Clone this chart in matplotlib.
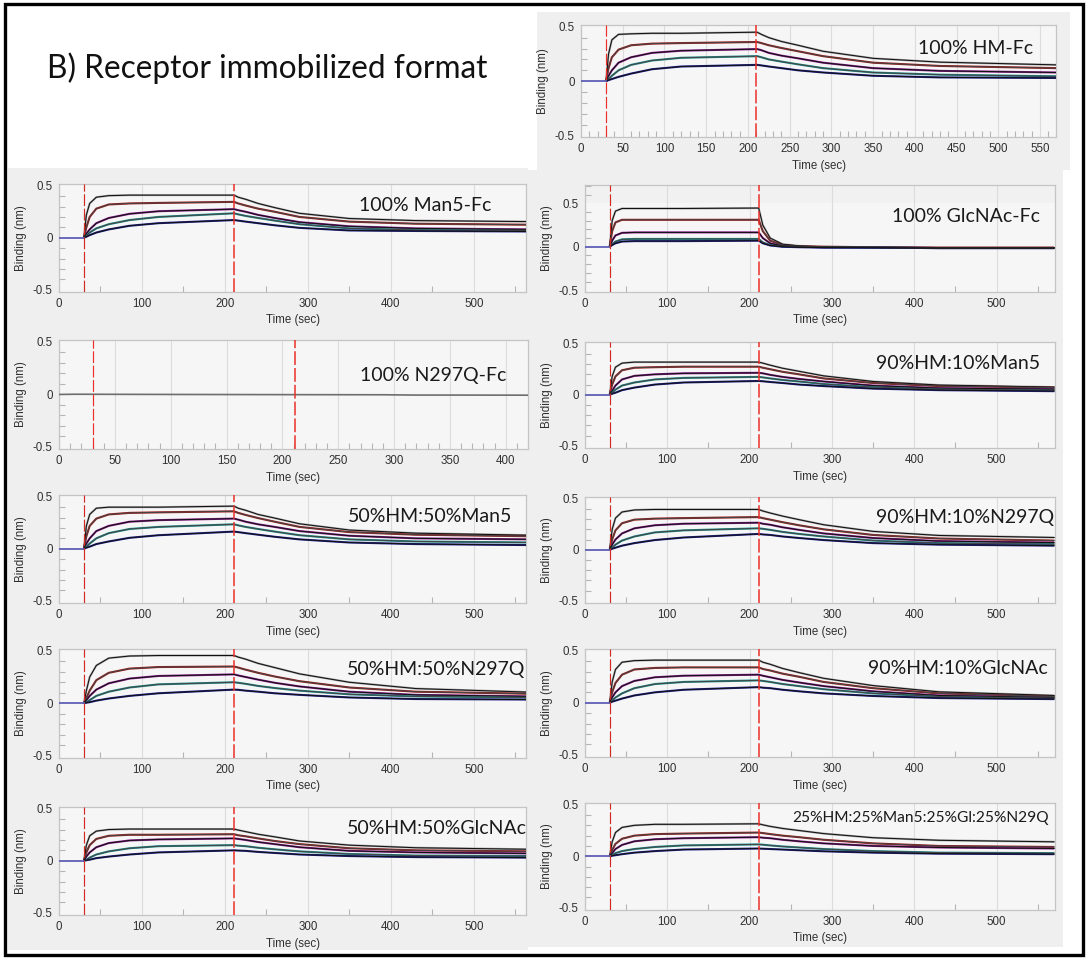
import matplotlib
matplotlib.use("Agg")
import matplotlib.pyplot as plt
from matplotlib.patches import Rectangle
from matplotlib.ticker import MultipleLocator, FixedLocator

# ---------------- data ----------------
T = [0, 30, 33, 37, 45, 60, 85, 120, 211, 216, 225, 240, 260, 290, 350, 430, 570]

hm_fc = [
    [0, 0, 0.25, 0.38, 0.43, 0.435, 0.44, 0.44, 0.45, 0.43, 0.40, 0.365, 0.33, 0.275, 0.21, 0.175, 0.15],
    [0, 0, 0.12, 0.22, 0.29, 0.33, 0.345, 0.35, 0.36, 0.35, 0.33, 0.305, 0.275, 0.23, 0.17, 0.14, 0.12],
    [0, 0, 0.05, 0.10, 0.17, 0.22, 0.26, 0.28, 0.295, 0.285, 0.26, 0.235, 0.21, 0.17, 0.12, 0.095, 0.08],
    [0, 0, 0.02, 0.05, 0.10, 0.15, 0.19, 0.215, 0.23, 0.22, 0.20, 0.18, 0.155, 0.12, 0.08, 0.06, 0.045],
    [0, 0, 0.01, 0.02, 0.04, 0.07, 0.11, 0.135, 0.15, 0.145, 0.135, 0.12, 0.10, 0.08, 0.05, 0.035, 0.03],
]
man5_fc = [
    [0, 0, 0.22, 0.33, 0.39, 0.405, 0.41, 0.41, 0.41, 0.39, 0.37, 0.33, 0.29, 0.235, 0.185, 0.165, 0.155],
    [0, 0, 0.10, 0.20, 0.28, 0.32, 0.33, 0.335, 0.345, 0.33, 0.31, 0.28, 0.25, 0.20, 0.155, 0.135, 0.125],
    [0, 0, 0.04, 0.08, 0.14, 0.19, 0.23, 0.255, 0.275, 0.265, 0.25, 0.22, 0.19, 0.15, 0.11, 0.09, 0.08],
    [0, 0, 0.02, 0.05, 0.09, 0.13, 0.17, 0.20, 0.235, 0.225, 0.21, 0.19, 0.165, 0.13, 0.09, 0.075, 0.07],
    [0, 0, 0.01, 0.025, 0.05, 0.08, 0.115, 0.14, 0.17, 0.165, 0.155, 0.14, 0.12, 0.095, 0.07, 0.065, 0.06],
]
glcnac_fc = [
    [0, 0, 0.30, 0.41, 0.44, 0.44, 0.44, 0.44, 0.445, 0.25, 0.10, 0.03, 0.01, 0.0, -0.005, -0.01, -0.01],
    [0, 0, 0.18, 0.28, 0.31, 0.31, 0.31, 0.31, 0.31, 0.18, 0.07, 0.02, 0.005, 0.0, -0.005, -0.01, -0.01],
    [0, 0, 0.07, 0.13, 0.16, 0.165, 0.165, 0.165, 0.165, 0.10, 0.04, 0.01, 0.0, -0.005, -0.01, -0.015, -0.015],
    [0, 0, 0.03, 0.06, 0.085, 0.09, 0.09, 0.09, 0.09, 0.05, 0.02, 0.005, 0.0, -0.005, -0.01, -0.015, -0.015],
    [0, 0, 0.02, 0.04, 0.06, 0.065, 0.065, 0.065, 0.07, 0.04, 0.015, 0.0, -0.005, -0.01, -0.01, -0.015, -0.015],
]
T_n297q = [0, 15, 100, 155, 211, 290, 320, 360, 420]
n297q_fc = [-0.002, 0.0, -0.002, -0.003, -0.004, -0.005, -0.008, -0.008, -0.009]

hm50_man5 = [
    [0, 0, 0.22, 0.33, 0.39, 0.40, 0.40, 0.40, 0.41, 0.39, 0.37, 0.33, 0.295, 0.24, 0.18, 0.15, 0.13],
    [0, 0, 0.12, 0.22, 0.29, 0.33, 0.345, 0.35, 0.36, 0.345, 0.325, 0.295, 0.26, 0.21, 0.16, 0.135, 0.12],
    [0, 0, 0.05, 0.10, 0.17, 0.22, 0.26, 0.275, 0.29, 0.28, 0.26, 0.235, 0.21, 0.17, 0.125, 0.10, 0.09],
    [0, 0, 0.02, 0.05, 0.10, 0.15, 0.19, 0.21, 0.235, 0.225, 0.21, 0.19, 0.165, 0.13, 0.09, 0.07, 0.06],
    [0, 0, 0.01, 0.02, 0.045, 0.07, 0.105, 0.13, 0.165, 0.16, 0.15, 0.135, 0.115, 0.09, 0.06, 0.045, 0.035],
]
hm50_n297q = [
    [0, 0, 0.12, 0.25, 0.36, 0.43, 0.45, 0.455, 0.455, 0.44, 0.42, 0.38, 0.34, 0.28, 0.20, 0.14, 0.105],
    [0, 0, 0.05, 0.12, 0.22, 0.29, 0.33, 0.345, 0.35, 0.34, 0.32, 0.29, 0.255, 0.21, 0.15, 0.11, 0.09],
    [0, 0, 0.03, 0.07, 0.13, 0.19, 0.235, 0.26, 0.275, 0.265, 0.25, 0.225, 0.195, 0.16, 0.11, 0.08, 0.065],
    [0, 0, 0.01, 0.03, 0.07, 0.11, 0.15, 0.18, 0.20, 0.195, 0.185, 0.165, 0.145, 0.12, 0.085, 0.065, 0.055],
    [0, 0, 0.005, 0.01, 0.025, 0.045, 0.07, 0.095, 0.13, 0.128, 0.12, 0.11, 0.095, 0.08, 0.055, 0.04, 0.035],
]
hm50_glcnac = [
    [0, 0, 0.15, 0.24, 0.285, 0.30, 0.305, 0.305, 0.305, 0.295, 0.28, 0.255, 0.23, 0.19, 0.15, 0.125, 0.11],
    [0, 0, 0.08, 0.15, 0.21, 0.24, 0.25, 0.25, 0.255, 0.245, 0.235, 0.215, 0.19, 0.16, 0.12, 0.10, 0.09],
    [0, 0, 0.04, 0.08, 0.13, 0.17, 0.195, 0.205, 0.215, 0.21, 0.20, 0.18, 0.16, 0.13, 0.095, 0.08, 0.07],
    [0, 0, 0.01, 0.03, 0.06, 0.09, 0.12, 0.14, 0.15, 0.145, 0.14, 0.125, 0.11, 0.09, 0.065, 0.05, 0.045],
    [0, 0, 0.005, 0.01, 0.025, 0.04, 0.06, 0.08, 0.10, 0.098, 0.095, 0.085, 0.075, 0.06, 0.045, 0.035, 0.03],
]
hm90_man5 = [
    [0, 0, 0.18, 0.27, 0.31, 0.32, 0.32, 0.32, 0.32, 0.31, 0.29, 0.26, 0.23, 0.185, 0.13, 0.095, 0.075],
    [0, 0, 0.10, 0.18, 0.24, 0.265, 0.27, 0.275, 0.275, 0.265, 0.25, 0.225, 0.20, 0.16, 0.115, 0.085, 0.07],
    [0, 0, 0.04, 0.09, 0.15, 0.185, 0.20, 0.21, 0.215, 0.21, 0.195, 0.175, 0.155, 0.13, 0.09, 0.065, 0.055],
    [0, 0, 0.02, 0.05, 0.09, 0.12, 0.15, 0.165, 0.175, 0.17, 0.16, 0.145, 0.13, 0.105, 0.075, 0.055, 0.045],
    [0, 0, 0.01, 0.02, 0.045, 0.07, 0.10, 0.12, 0.135, 0.132, 0.125, 0.115, 0.10, 0.085, 0.06, 0.045, 0.035],
]
hm90_n297q = [
    [0, 0, 0.20, 0.31, 0.37, 0.39, 0.395, 0.395, 0.395, 0.38, 0.36, 0.33, 0.295, 0.245, 0.18, 0.14, 0.12],
    [0, 0, 0.10, 0.19, 0.26, 0.295, 0.305, 0.31, 0.32, 0.31, 0.295, 0.27, 0.24, 0.20, 0.145, 0.11, 0.09],
    [0, 0, 0.05, 0.10, 0.16, 0.21, 0.24, 0.255, 0.265, 0.255, 0.245, 0.22, 0.195, 0.16, 0.115, 0.085, 0.07],
    [0, 0, 0.02, 0.05, 0.09, 0.13, 0.17, 0.19, 0.21, 0.205, 0.195, 0.175, 0.155, 0.13, 0.09, 0.065, 0.055],
    [0, 0, 0.01, 0.02, 0.04, 0.065, 0.095, 0.12, 0.155, 0.15, 0.145, 0.13, 0.115, 0.095, 0.065, 0.05, 0.04],
]
hm90_glcnac = [
    [0, 0, 0.20, 0.32, 0.39, 0.405, 0.41, 0.41, 0.41, 0.39, 0.37, 0.33, 0.29, 0.235, 0.165, 0.105, 0.07],
    [0, 0, 0.10, 0.19, 0.27, 0.32, 0.335, 0.34, 0.34, 0.325, 0.31, 0.28, 0.25, 0.20, 0.14, 0.09, 0.06],
    [0, 0, 0.05, 0.10, 0.16, 0.21, 0.245, 0.26, 0.27, 0.26, 0.245, 0.22, 0.195, 0.16, 0.11, 0.07, 0.05],
    [0, 0, 0.02, 0.05, 0.09, 0.14, 0.18, 0.20, 0.215, 0.21, 0.20, 0.18, 0.16, 0.13, 0.09, 0.06, 0.045],
    [0, 0, 0.01, 0.02, 0.04, 0.07, 0.10, 0.125, 0.15, 0.145, 0.14, 0.125, 0.11, 0.09, 0.065, 0.045, 0.035],
]
mix25 = [
    [0, 0, 0.14, 0.23, 0.28, 0.30, 0.31, 0.31, 0.315, 0.305, 0.29, 0.27, 0.25, 0.22, 0.18, 0.155, 0.14],
    [0, 0, 0.06, 0.12, 0.17, 0.20, 0.215, 0.22, 0.23, 0.225, 0.215, 0.20, 0.185, 0.16, 0.125, 0.10, 0.09],
    [0, 0, 0.03, 0.07, 0.11, 0.145, 0.165, 0.175, 0.185, 0.18, 0.175, 0.16, 0.145, 0.125, 0.10, 0.085, 0.075],
    [0, 0, 0.01, 0.03, 0.05, 0.07, 0.09, 0.105, 0.115, 0.112, 0.105, 0.095, 0.085, 0.07, 0.05, 0.035, 0.03],
    [0, 0, 0.005, 0.01, 0.02, 0.035, 0.05, 0.065, 0.075, 0.073, 0.07, 0.065, 0.058, 0.048, 0.035, 0.025, 0.02],
]

panel_labels = ["100% HM-Fc", "100% Man5-Fc", "100% GlcNAc-Fc", "100% N297Q-Fc",
                "90%HM:10%Man5", "50%HM:50%Man5", "90%HM:10%N297Q", "50%HM:50%N297Q",
                "90%HM:10%GlcNAc", "50%HM:50%GlcNAc", "25%HM:25%Man5:25%Gl:25%N29Q"]
assoc_start = 30
dissoc_start = 211
title = "B) Receptor immobilized format"

# ---------------- styling / layout ----------------
W, H = 1086, 958
fig = plt.figure(figsize=(W / 100, H / 100), dpi=100)
fig.patch.set_facecolor("white")

data_colors = ["#a8a8a8", "#a01c1c", "#8e1f8e", "#1a8c8a", "#22228f"]
fit_colors = ["#111111", "#444444", "#111111", "#444444", "#111111"]
PANEL_BG = "#efefef"


def frac_rect(x0, y0, x1, y1):
    return [x0 / W, 1 - y1 / H, (x1 - x0) / W, (y1 - y0) / H]


def add_bg(x0, y0, x1, y1, color=PANEL_BG):
    l, b, w, h = frac_rect(x0, y0, x1, y1)
    fig.add_artist(Rectangle((l, b), w, h, transform=fig.transFigure,
                             facecolor=color, edgecolor="none", zorder=-5))


# gray screenshot backgrounds
add_bg(537, 12, 1070, 170)
add_bg(8, 168, 528, 950)
add_bg(527, 170, 1063, 947)

# outer black frame
l, b, w, h = frac_rect(4.5, 3.5, 1083, 954.5)
fig.add_artist(Rectangle((l, b), w, h, transform=fig.transFigure, fill=False,
                         edgecolor="black", linewidth=2.4, zorder=20))

fig.text(47 / W, 1 - 68 / H, title, fontsize=22.8, family=["Lato", "DejaVu Sans"],
         ha="left", va="center", color="#111111")

TICKFONT = ["Liberation Sans", "DejaVu Sans"]


def setup_axes(box, xlim, ylim, xmajor, xminor):
    ax = fig.add_axes(frac_rect(*box))
    ax.set_facecolor("#f6f6f6")
    ax.set_xlim(*xlim)
    ax.set_ylim(*ylim)
    ax.xaxis.set_major_locator(MultipleLocator(xmajor))
    ax.xaxis.set_minor_locator(MultipleLocator(xminor))
    ax.yaxis.set_major_locator(FixedLocator([-0.5, 0, 0.5]))
    ax.yaxis.set_minor_locator(MultipleLocator(0.1))
    ax.set_yticklabels(["-0.5", "0", "0.5"])
    ax.grid(axis="x", which="major", color="#dcdcdc", lw=0.8, zorder=0)
    ax.tick_params(which="major", direction="in", length=0, labelsize=8.3,
                   labelcolor="#303030", pad=4.5)
    ax.tick_params(which="minor", direction="in", length=4, color="#b5b5b5", width=0.8)
    for lab in ax.get_xticklabels() + ax.get_yticklabels():
        lab.set_family(TICKFONT)
    for s in ax.spines.values():
        s.set_color("#c4c4c4")
        s.set_linewidth(0.9)
    ax.set_axisbelow(True)
    ax.annotate("Time (sec)", xy=(0.5, 0), xycoords="axes fraction",
                xytext=(0, -28.5 * 0.72), textcoords="offset points",
                ha="center", va="center", fontsize=8.3, color="#303030", family=TICKFONT)
    ax.annotate("Binding (nm)", xy=(0, 0.5), xycoords="axes fraction",
                xytext=(-38 * 0.72, 0), textcoords="offset points", rotation=90,
                ha="center", va="center", fontsize=8.3, color="#303030", family=TICKFONT)
    return ax


def draw_markers(ax, x1, x2, first_color="#d42a24"):
    ax.axvline(x1, color=first_color, lw=0.85, linestyle=(0, (10, 2.2)), zorder=6)
    ax.axvline(x2, color="#ec3029", lw=1.1, linestyle=(0, (9, 2)), zorder=6)


def draw_curves(ax, curves):
    for i, vals in enumerate(curves):
        ax.plot(T[1:], vals[1:], color=data_colors[i], lw=1.5, zorder=3,
                solid_capstyle="butt")
    for i, vals in enumerate(curves):
        ax.plot(T[1:], vals[1:], color=fit_colors[i], lw=0.75, zorder=4)
    ax.plot(T[:2], curves[-1][:2], color="#5f5fb5", lw=1.3, zorder=5)


def label(x, y, text, size=14):
    fig.text(x / W, 1 - y / H, text, fontsize=size, family=["Lato", "DejaVu Sans"],
             ha="left", va="center", color="#1a1a1a", zorder=10)


YL = (-0.522, 0.517)
LEFT_XL = (0, 563)
RIGHT_XL = (0, 571)

# top-right: 100% HM-Fc
ax = setup_axes((581, 25, 1056, 137), (0, 569), (-0.512, 0.516), 50, 10)
draw_curves(ax, hm_fc)
draw_markers(ax, assoc_start, 210, first_color="#ec3029")
label(918, 48, panel_labels[0])

# 100% Man5-Fc
ax = setup_axes((59, 184, 526, 292), LEFT_XL, YL, 100, 50)
draw_curves(ax, man5_fc)
draw_markers(ax, assoc_start, dissoc_start)
label(359, 205, panel_labels[1])

# 100% GlcNAc-Fc
ax = setup_axes((585, 185, 1055, 292), RIGHT_XL, (-0.52, 0.71), 100, 50)
ax.axhspan(0.5, 0.71, color="#f1f1f1", zorder=0.5, lw=0)
draw_curves(ax, glcnac_fc)
draw_markers(ax, assoc_start, dissoc_start)
label(892, 217, panel_labels[2])

# 100% N297Q-Fc
ax = setup_axes((59, 340, 528, 449), (0, 420), YL, 50, 10)
ax.plot(T_n297q, n297q_fc, color="#6e6e6e", lw=1.2, zorder=4)
draw_markers(ax, assoc_start, dissoc_start, first_color="#ec3029")
label(360, 376, panel_labels[3])

# 90%HM:10%Man5
ax = setup_axes((585, 342, 1055, 448), RIGHT_XL, YL, 100, 50)
draw_curves(ax, hm90_man5)
draw_markers(ax, assoc_start, dissoc_start)
label(876, 363, panel_labels[4])

# 50%HM:50%Man5
ax = setup_axes((59, 495, 526, 603), LEFT_XL, YL, 100, 50)
draw_curves(ax, hm50_man5)
draw_markers(ax, assoc_start, dissoc_start)
label(348, 517, panel_labels[5])

# 90%HM:10%N297Q
ax = setup_axes((585, 497, 1055, 603), RIGHT_XL, YL, 100, 50)
draw_curves(ax, hm90_n297q)
draw_markers(ax, assoc_start, dissoc_start)
label(876, 518, panel_labels[6])

# 50%HM:50%N297Q
ax = setup_axes((59, 649, 526, 758), LEFT_XL, YL, 100, 50)
draw_curves(ax, hm50_n297q)
draw_markers(ax, assoc_start, dissoc_start)
label(347, 670, panel_labels[7])

# 90%HM:10%GlcNAc
ax = setup_axes((585, 649, 1055, 757), RIGHT_XL, YL, 100, 50)
draw_curves(ax, hm90_glcnac)
draw_markers(ax, assoc_start, dissoc_start)
label(868, 668, panel_labels[8])

# 50%HM:50%GlcNAc
ax = setup_axes((59, 807, 526, 915), LEFT_XL, YL, 100, 50)
draw_curves(ax, hm50_glcnac)
draw_markers(ax, assoc_start, dissoc_start)
label(347, 829, panel_labels[9])

# 25% mix
ax = setup_axes((585, 803, 1055, 910), RIGHT_XL, YL, 100, 50)
draw_curves(ax, mix25)
draw_markers(ax, assoc_start, dissoc_start)
label(792, 818, panel_labels[10], size=11.2)

fig.savefig("out.png", dpi=100, facecolor="white")
